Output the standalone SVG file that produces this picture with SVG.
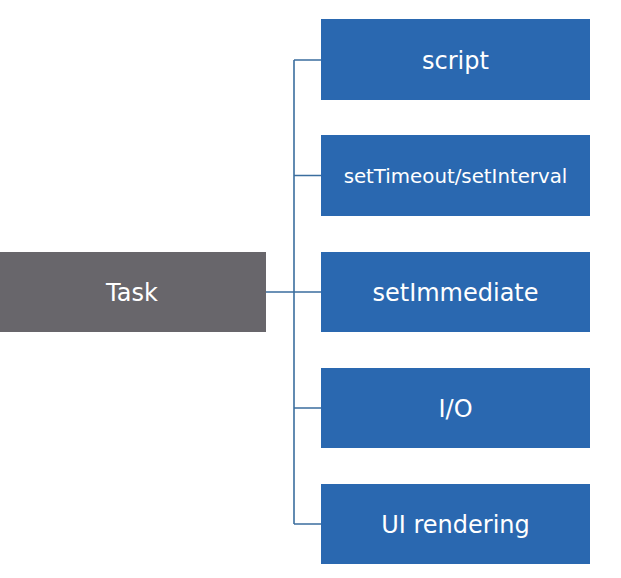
<svg xmlns="http://www.w3.org/2000/svg" width="621" height="578" viewBox="0 0 621 578">
<style>
.blue{fill:#2a68b0}
.gray{fill:#68666b}
.t{font-family:"DejaVu Sans",Verdana,sans-serif;font-size:24px;fill:#ffffff;text-anchor:middle}
.s{font-size:19.8px}
.c{fill:none;stroke:#3b6e9e;stroke-width:1.6}
</style>
<rect width="621" height="578" fill="#ffffff"/>
<g id="connectors">
<path class="c" d="M266 292H294M294 60V524M294 60H321M294 175.5H321M294 292H321M294 408H321M294 524H321"/>
</g>
<g id="task"><rect class="gray" x="0" y="252" width="266" height="80"/><text class="t" x="132" y="300.5">Task</text></g>
<g id="script"><rect class="blue" x="321" y="19" width="269" height="81"/><text class="t" x="455.5" y="68.5">script</text></g>
<g id="settimeout"><rect class="blue" x="321" y="135" width="269" height="81"/><text class="t s" x="455.5" y="183">setTimeout/setInterval</text></g>
<g id="setimmediate"><rect class="blue" x="321" y="252" width="269" height="80"/><text class="t" x="455.5" y="300.5">setImmediate</text></g>
<g id="io"><rect class="blue" x="321" y="368" width="269" height="80"/><text class="t" x="455.5" y="416.5">I/O</text></g>
<g id="ui"><rect class="blue" x="321" y="484" width="269" height="80"/><text class="t" x="455.5" y="532.5">UI rendering</text></g>
</svg>
